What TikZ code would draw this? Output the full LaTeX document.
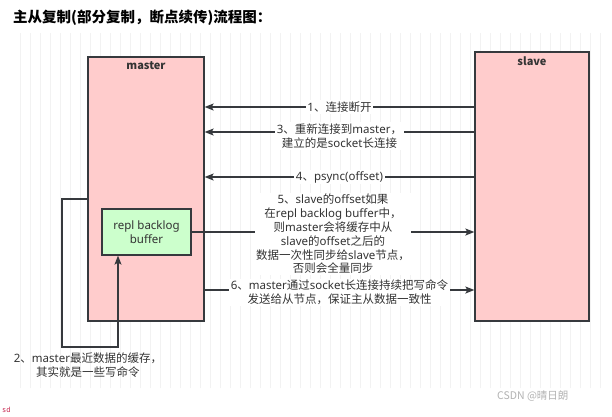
\documentclass[tikz,border=0pt]{standalone}
\usepackage{fontspec}
\setmainfont{Noto Sans CJK SC}
\newfontfamily\cjkf{Noto Sans CJK SC}
\newfontfamily\latf{Noto Sans}
\setmonofont{DejaVu Sans Mono}
\newcommand\myicoff{\XeTeXinterchartokenstate=0\relax}
\makeatletter
\def\mysetlatclass#1#2{\count@=#1\relax\loop\XeTeXcharclass\count@=5\relax\ifnum\count@<#2\advance\count@ by 1\repeat}
\mysetlatclass{`a}{`z}
\mysetlatclass{`A}{`Z}
\mysetlatclass{`0}{`9}
\XeTeXcharclass`(=5\relax
\XeTeXcharclass`)=5\relax
\makeatother
\XeTeXinterchartoks 0 5 = {\latf}
\XeTeXinterchartoks 4095 5 = {\latf}
\XeTeXinterchartoks 5 0 = {\cjkf}
\XeTeXinterchartoks 4095 0 = {\cjkf}
\XeTeXinterchartokenstate=1
\usetikzlibrary{arrows.meta}
\definecolor{pinkfill}{HTML}{FFCCCC}
\definecolor{greenfill}{HTML}{CCFFCC}
\definecolor{edge}{HTML}{36393D}
\definecolor{txt}{HTML}{333333}
\definecolor{gridc}{HTML}{F2F2F2}
\definecolor{sdred}{HTML}{C7254E}
\tikzset{
  box/.style={draw=edge, line width=1.3pt, rectangle, inner sep=0pt},
  arr/.style={draw=edge, line width=1.3pt, -{Stealth[length=9pt,width=7pt,inset=2pt]}},
  lbl/.style={fill=white, text=txt, align=center, inner sep=1.5pt, font=\fontsize{11.5}{13.8}\selectfont},
  boxlabel/.style={text=txt, font={\myicoff\cjkf\fontsize{11}{13}\selectfont\bfseries}},
}
\begin{document}
\begin{tikzpicture}[x=1pt,y=-1pt]
\useasboundingbox (0,0) rectangle (612,416);
\fill[white] (0,0) rectangle (612,416);
% faint grid
\draw[gridc, line width=0.5pt] (14,33) grid[step=10] (605,388);
% title
\node[anchor=west, inner sep=0pt, font={\myicoff\cjkf\fontsize{14.5}{16}\selectfont\bfseries}] (title) at (13,18) {主从复制(部分复制，断点续传)流程图：};
% boxes
\node[box, fill=pinkfill, minimum width=116pt, minimum height=264pt] (master) at (146,189) {};
\node[boxlabel, anchor=north] (mlabel) at (master.north) [yshift=-2pt] {master};
\node[box, fill=pinkfill, minimum width=114pt, minimum height=269pt] (slave) at (532,186.5) {};
\node[boxlabel, anchor=north] (slabel) at (slave.north) [yshift=-2pt] {slave};
\node[box, fill=greenfill, minimum width=89pt, minimum height=46pt, align=center, text=txt, font=\fontsize{11.5}{14}\selectfont] (buf) at (146.5,232) {repl backlog\\buffer};
% arrows master <- slave
\draw[arr] (slave.west |- 0,107) -- node[lbl] (l1) {1、连接断开} (master.east |- 0,107);
\draw[arr] (slave.west |- 0,132) -- node[lbl, yshift=-4pt] (l3) {3、重新连接到master，\\建立的是socket长连接} (master.east |- 0,132);
\draw[arr] (slave.west |- 0,177) -- node[lbl] (l4) {4、psync(offset)} (master.east |- 0,177);
% arrows master -> slave
\draw[arr] (buf.east) -- node[lbl, yshift=-2pt] (l5) {5、slave的offset如果\\在repl backlog buffer中，\\则master会将缓存中从\\slave的offset之后的\\数据一次性同步给slave节点，\\否则会全量同步} (slave.west |- buf.east);
\draw[arr] (master.east |- 0,290) -- node[lbl, yshift=-2.5pt] (l6) {6、master通过socket长连接持续把写命令\\发送给从节点，保证主从数据一致性} (slave.west |- 0,290);
% loop arrow 2
\coordinate (c1) at (62,199);
\coordinate (c2) at (62,347);
\draw[arr] (master.west |- c1) -- (c1) -- (c2) -- (c2 -| 118,0) -- (buf.south -| 118,0);
\node[text=txt, align=center, font=\fontsize{11.5}{14}\selectfont, inner sep=0pt] (l2) at (88,365) {2、master最近数据的缓存，\\其实就是一些写命令};
% extra texts
\node[anchor=west, inner sep=0pt, text=sdred, font={\myicoff\ttfamily\fontsize{7}{8}\selectfont}] (sd) at (2,410) {sd};
\node[anchor=west, inner sep=0pt, text=gray!60, font={\myicoff\cjkf\fontsize{10.5}{12}\selectfont}] (csdn) at (497,396) {CSDN @晴日朗};
\end{tikzpicture}
\end{document}
